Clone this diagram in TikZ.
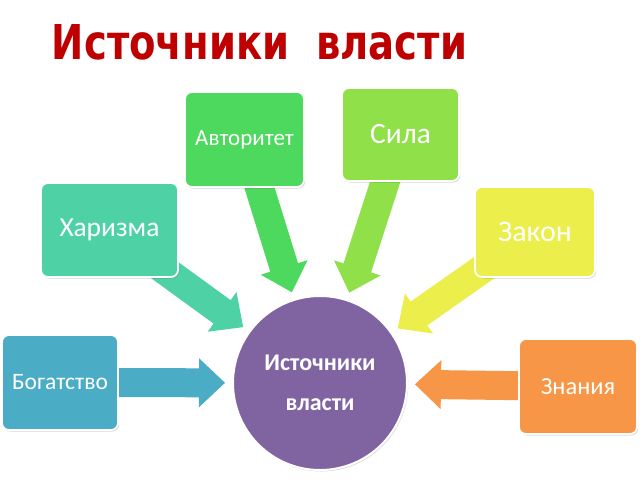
\documentclass[tikz,border=0pt]{standalone}
\usepackage{fontspec}
\setmainfont{Carlito}
\newfontfamily\titlefont{DejaVu Sans}
\usetikzlibrary{calc,shadows}
\pgfdeclarelayer{bottom}
\pgfdeclarelayer{arrows}
\pgfsetlayers{bottom,arrows,main}
\definecolor{cTitle}{HTML}{BE0000}
\definecolor{cAvt}{HTML}{4DD85E}
\definecolor{cHar}{HTML}{4ED2A5}
\definecolor{cSil}{HTML}{90E04A}
\definecolor{cZak}{HTML}{EBEE4B}
\definecolor{cBog}{HTML}{4BACC6}
\definecolor{cZn}{HTML}{F79646}
\definecolor{cCirc}{HTML}{8064A2}
\tikzset{
  srcbox/.style={rectangle, rounded corners=7pt, draw=white, line width=1.8pt,
    text=white, align=center, inner sep=2pt,
    drop shadow={shadow xshift=1.2pt, shadow yshift=-1.5pt, opacity=0.22, fill=black!70}},
  hub/.style={circle, minimum size=174pt, inner sep=0pt, fill=cCirc, draw=white,
    line width=2pt, text=white, align=center,
    font={\fontsize{24}{40}\selectfont\bfseries},
    drop shadow={shadow xshift=1.2pt, shadow yshift=-1.5pt, opacity=0.2, fill=black!70}},
}
\newcommand{\blockarrow}[3]{%
  \coordinate (ba-q) at ($(#3)!26pt!(#2)$);
  \fill[#1] ($(#2)!14.5pt!90:(#3)$) -- ($(ba-q)!14.5pt!90:(#3)$)
    -- ($(ba-q)!24.5pt!90:(#3)$) -- (#3) -- ($(ba-q)!24.5pt!-90:(#3)$)
    -- ($(ba-q)!14.5pt!-90:(#3)$) -- ($(#2)!14.5pt!-90:(#3)$) -- cycle;
}
\begin{document}
\begin{tikzpicture}[x=1pt,y=-1pt]
\begin{pgfonlayer}{bottom}
\fill[white] (0,0) rectangle (640,480);
\end{pgfonlayer}
\useasboundingbox (0,0) rectangle (640,480);

\node[text=cTitle, inner sep=0pt] (title) at (259.5,42.5)
  {\resizebox{415pt}{35pt}{\titlefont\bfseries Источники\ \ власти}};

\node[hub] (ctr) at (320,383) {Источники\\власти};

\node[srcbox, fill=cAvt, minimum width=119pt, minimum height=95pt,
  font={\fontsize{23}{27}\selectfont}] (avt) at (244.5,139.5) {Авторитет};
\node[srcbox, fill=cHar, minimum width=137pt, minimum height=94pt,
  font={\fontsize{27.5}{31}\selectfont}] (har) at (109.5,230) {Харизма};
\node[srcbox, fill=cSil, minimum width=117pt, minimum height=93pt,
  font={\fontsize{29.5}{33}\selectfont}] (sil) at (400.5,134.5) {Сила};
\node[srcbox, fill=cZak, minimum width=120pt, minimum height=90pt,
  font={\fontsize{30}{34}\selectfont}] (zak) at (535,232) {Закон};
\node[srcbox, fill=cBog, minimum width=116pt, minimum height=95pt,
  font={\fontsize{23.5}{27}\selectfont}] (bog) at (60,382.5) {Богатство};
\node[srcbox, fill=cZn, minimum width=118pt, minimum height=95pt,
  font={\fontsize{24.5}{28}\selectfont}] (zn) at (578,386.5) {Знания};

\coordinate (tAvt) at ($(ctr)!95pt!(avt)$);
\coordinate (tHar) at ($(ctr)!95pt!(har)$);
\coordinate (tSil) at ($(ctr)!95pt!(sil)$);
\coordinate (tZak) at ($(ctr)!95pt!(zak)$);
\coordinate (tBog) at ($(ctr)!95pt!(bog)$);
\coordinate (tZn) at ($(ctr)!95pt!(zn)$);

\begin{pgfonlayer}{arrows}
  \blockarrow{cAvt}{avt}{tAvt}
  \blockarrow{cHar}{har}{tHar}
  \blockarrow{cSil}{sil}{tSil}
  \blockarrow{cZak}{zak}{tZak}
  \blockarrow{cBog}{bog}{tBog}
  \blockarrow{cZn}{zn}{tZn}
\end{pgfonlayer}
\end{tikzpicture}
\end{document}
